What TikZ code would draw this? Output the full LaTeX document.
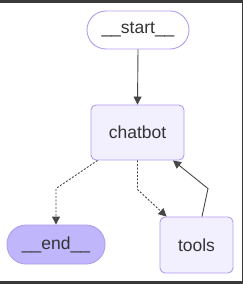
\documentclass[tikz,border=0pt]{standalone}
\usepackage{fontspec}
\setmainfont{Liberation Sans}
\usetikzlibrary{arrows.meta,positioning,backgrounds}

\definecolor{nodefill}{HTML}{F2F0FF}
\definecolor{nodeline}{HTML}{B59CEE}
\definecolor{endfill}{HTML}{BFB6FC}
\definecolor{txt}{HTML}{333333}
\definecolor{frame}{HTML}{3A3A3A}

\begin{document}
\begin{tikzpicture}[
  x=1pt,y=-1pt,
  font=\fontsize{17.5}{20}\selectfont,
  >={Triangle[length=8pt,width=8pt]},
  step node/.style ={draw=nodeline,line width=0.9pt,fill=nodefill,rounded corners=5pt,
                     text=txt,inner sep=0pt},
  term node/.style ={draw=nodeline,line width=0.9pt,rounded corners=19pt,
                     text=txt,inner sep=0pt},
  flow/.style={->,draw=txt!90,line width=0.9pt},
  cond/.style={flow,dash pattern=on 2pt off 1.6pt},
]

%% =====================================================
%%  Frame
%% =====================================================
\fill[frame] (0,0) rectangle (243,284);
\fill[white] (0,2.5) rectangle (241.5,281);

%% =====================================================
%%  Nodes
%% =====================================================
\node[term node,fill=white,minimum width=102pt,minimum height=38pt]
      (start) at (138,30) {\_\_start\_\_};
\node[step node,minimum width=93pt,minimum height=55pt]
      (chatbot) at (137.5,132.5) {chatbot};
\node[term node,fill=endfill,minimum width=98pt,minimum height=39pt]
      (end) at (56,244.5) {\_\_end\_\_};
\node[step node,minimum width=73pt,minimum height=56pt]
      (tools) at (196.5,245) {tools};

%% =====================================================
%%  Edges
%% =====================================================
\draw[flow] (start.south) -- (chatbot.north);

\draw[cond] ([xshift=-40pt]chatbot.south) -- ([yshift=36pt]end.north) -- (end.north);
\draw[cond] (chatbot.south) -- ++(0,29) -- ([xshift=7pt]tools.north west);

\draw[flow] ([xshift=5.5pt]tools.north) -- ++(6,-28) -- ([xshift=35.5pt]chatbot.south);

\end{tikzpicture}
\end{document}
